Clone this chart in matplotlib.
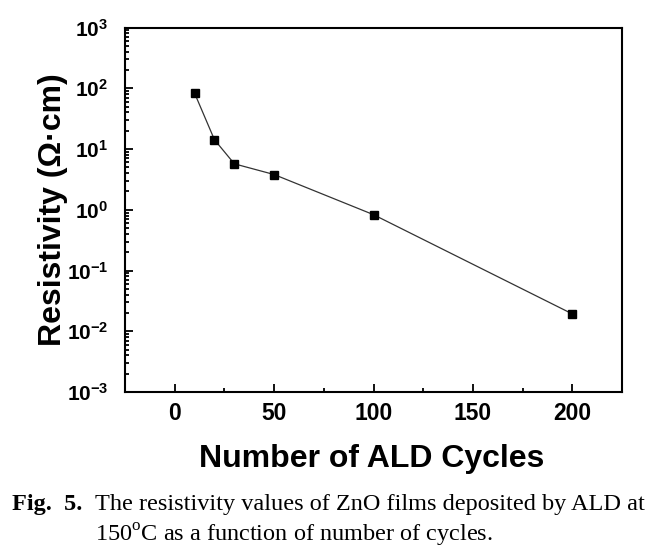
import math
import matplotlib
matplotlib.use('Agg')
import matplotlib.pyplot as plt
from matplotlib.ticker import LogLocator, FixedLocator, FuncFormatter, NullFormatter

# data
cycles = [10, 20, 30, 50, 100, 200]
resistivity = [83, 14.2, 5.7, 3.8, 0.83, 0.0193]
x_ticks = [0, 50, 100, 150, 200]
x_minor = [25, 75, 125, 175]

plt.rcParams['font.family'] = 'Liberation Sans'
plt.rcParams['mathtext.fontset'] = 'custom'
plt.rcParams['mathtext.rm'] = 'Liberation Serif'
plt.rcParams['mathtext.bf'] = 'Liberation Sans:bold'

W, H = 662, 560
fig = plt.figure(figsize=(W / 100, H / 100), dpi=100)
ax = fig.add_axes([125 / W, 1 - 392 / H, 497 / W, 364.5 / H])

ax.plot(cycles, resistivity, color='#333333', lw=0.9, marker='s', ms=6.2,
        mfc='black', mec='black', zorder=3)

ax.set_yscale('log')
ax.set_xlim(-25, 225)
ax.set_ylim(1e-3, 1e3)

ax.xaxis.set_major_locator(FixedLocator(x_ticks))
ax.xaxis.set_minor_locator(FixedLocator(x_minor))
ax.yaxis.set_major_locator(LogLocator(base=10, numticks=10))
ax.yaxis.set_minor_locator(LogLocator(base=10, subs=range(2, 10), numticks=20))
ax.yaxis.set_minor_formatter(NullFormatter())
ax.yaxis.set_major_formatter(FuncFormatter(
    lambda v, p: r'$\mathbf{10^{%d}}$' % round(math.log10(v))))

ax.tick_params(which='both', direction='in', top=False, right=False, width=1.3)
ax.tick_params(which='major', length=6)
ax.tick_params(axis='x', which='major', pad=7, labelsize=16.5)
ax.tick_params(axis='y', which='major', pad=12, labelsize=15)
ax.tick_params(which='minor', length=3)
for lab in ax.get_xticklabels():
    lab.set_fontweight('bold')

for s in ax.spines.values():
    s.set_linewidth(1.5)

fig.text(372 / W, 1 - 467 / H, 'Number of ALD Cycles', fontsize=23,
         fontweight='bold', ha='center', va='baseline')
fig.text(53 / W, 1 - 210 / H, 'Resistivity (\u03a9\u00b7cm)', fontsize=23,
         fontweight='bold', ha='center', va='center', rotation=90)

fig.text(12 / W, 1 - 510 / H, 'Fig.  5.', fontsize=17.5, fontweight='bold',
         family='Liberation Serif', va='baseline')
fig.text(95 / W, 1 - 510 / H, 'The resistivity values of ZnO films deposited by ALD at',
         fontsize=17.5, family='Liberation Serif', va='baseline')
fig.text(95 / W, 1 - 542 / H, r'150$^{\mathrm{o}}$C as a function of number of cycles.',
         fontsize=17.5, family='Liberation Serif', va='baseline')

fig.savefig('out.png', dpi=100)
